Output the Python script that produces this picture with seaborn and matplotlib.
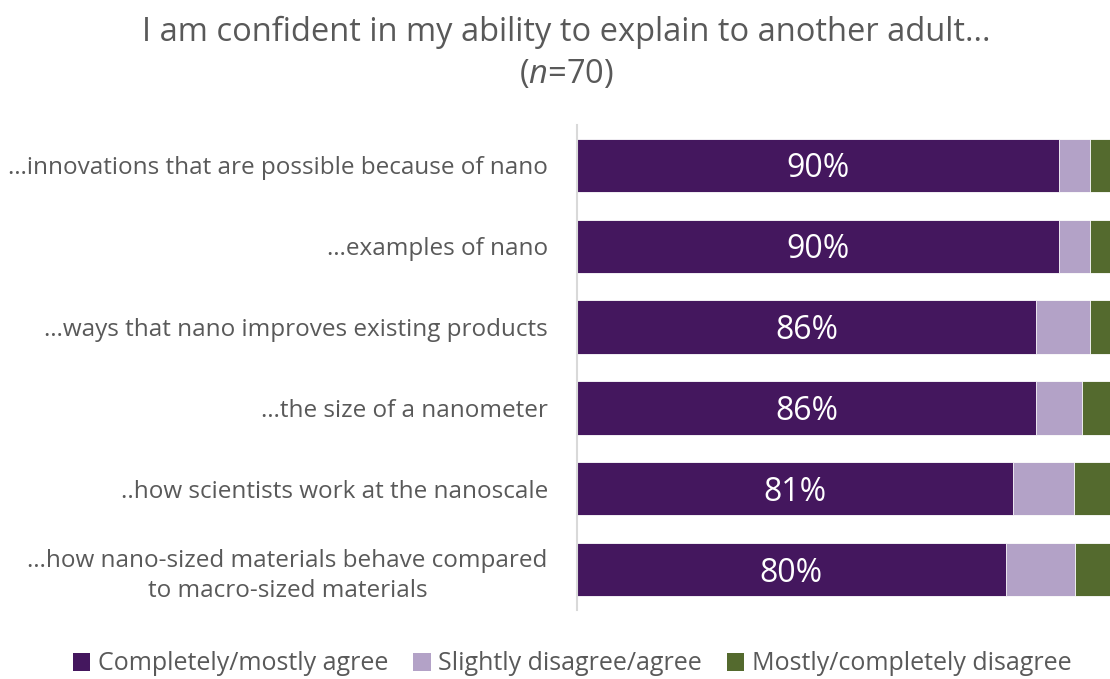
import matplotlib
matplotlib.use("Agg")
import matplotlib.pyplot as plt
from matplotlib.patches import Patch
import seaborn as sns
import pandas as pd

# Survey items and response shares (percent of n=70)
items = [
    "…innovations that are possible because of nano",
    "…examples of nano",
    "…ways that nano improves existing products",
    "…the size of a nanometer",
    "..how scientists work at the nanoscale",
    "…how nano-sized materials behave compared\nto macro-sized materials",
]
agree = [90.0, 90.0, 85.7, 85.7, 81.4, 80.0]
slight = [5.7, 5.7, 10.0, 8.6, 11.4, 12.9]
disagree = [4.3, 4.3, 4.3, 5.7, 7.2, 7.1]
series_names = ["Completely/mostly agree", "Slightly disagree/agree",
                "Mostly/completely disagree"]
colors = ["#44175E", "#B3A2C7", "#546A2E"]

sns.set_theme(style="white")
plt.rcParams["font.family"] = ["Open Sans", "DejaVu Sans"]
plt.rcParams["mathtext.fontset"] = "custom"
plt.rcParams["mathtext.it"] = "Open Sans:italic"
plt.rcParams["mathtext.rm"] = "Open Sans"

df = pd.DataFrame({"item": items, "agree": agree, "slight": slight,
                   "disagree": disagree})
df["cum2"] = df["agree"] + df["slight"]
df["cum3"] = df["cum2"] + df["disagree"]

fig = plt.figure(figsize=(11.10, 6.79), dpi=100)
W, H = 1110, 679
ax = fig.add_axes([577 / W, 1 - 610 / H, (1113 - 577) / W, (610 - 125) / H])

# stacked bars: draw cumulative totals back to front
edge = dict(edgecolor="#FFFFFF", linewidth=0.6)
sns.barplot(data=df, x="cum3", y="item", color=colors[2], width=0.66,
            orient="h", ax=ax, saturation=1, **edge)
sns.barplot(data=df, x="cum2", y="item", color=colors[1], width=0.66,
            orient="h", ax=ax, saturation=1, **edge)
sns.barplot(data=df, x="agree", y="item", color=colors[0], width=0.66,
            orient="h", ax=ax, saturation=1, **edge)

ax.set_xlim(0, 100)
ax.set_ylim(5.5, -0.5)
ax.set_xlabel("")
ax.set_ylabel("")
ax.set_xticks([])
for s in ["top", "right", "bottom"]:
    ax.spines[s].set_visible(False)
ax.spines["left"].set_color("#D9D9D9")
ax.spines["left"].set_linewidth(1.5)
ax.tick_params(axis="y", length=0, pad=21, labelsize=17.5, labelcolor="#595959")
for lab in ax.get_yticklabels():
    lab.set_multialignment("center")
    lab.set_linespacing(1.35)

for i, v in enumerate(agree):
    ax.annotate(f"{round(v)}%", xy=(v / 2, i), xytext=(0, -2.5),
                textcoords="offset points", ha="center", va="center",
                color="white", fontsize=23)

fig.text(566 / W, 1 - 32 / H, "I am confident in my ability to explain to another adult...",
         ha="center", va="center", fontsize=23.5, color="#595959")
fig.text(566 / W, 1 - 75 / H, r"($\mathit{n}$=70)",
         ha="center", va="center", fontsize=23.5, color="#595959")

handles = [Patch(facecolor=c, edgecolor="none") for c in colors]
fig.legend(handles, series_names, loc="center", bbox_to_anchor=(572 / W, 1 - 664 / H),
           ncol=3, frameon=False, handlelength=0.7, handleheight=0.7,
           handletextpad=0.3, columnspacing=1.0,
           prop={"size": 18}, labelcolor="#595959")

fig.savefig("out.png", dpi=100)
